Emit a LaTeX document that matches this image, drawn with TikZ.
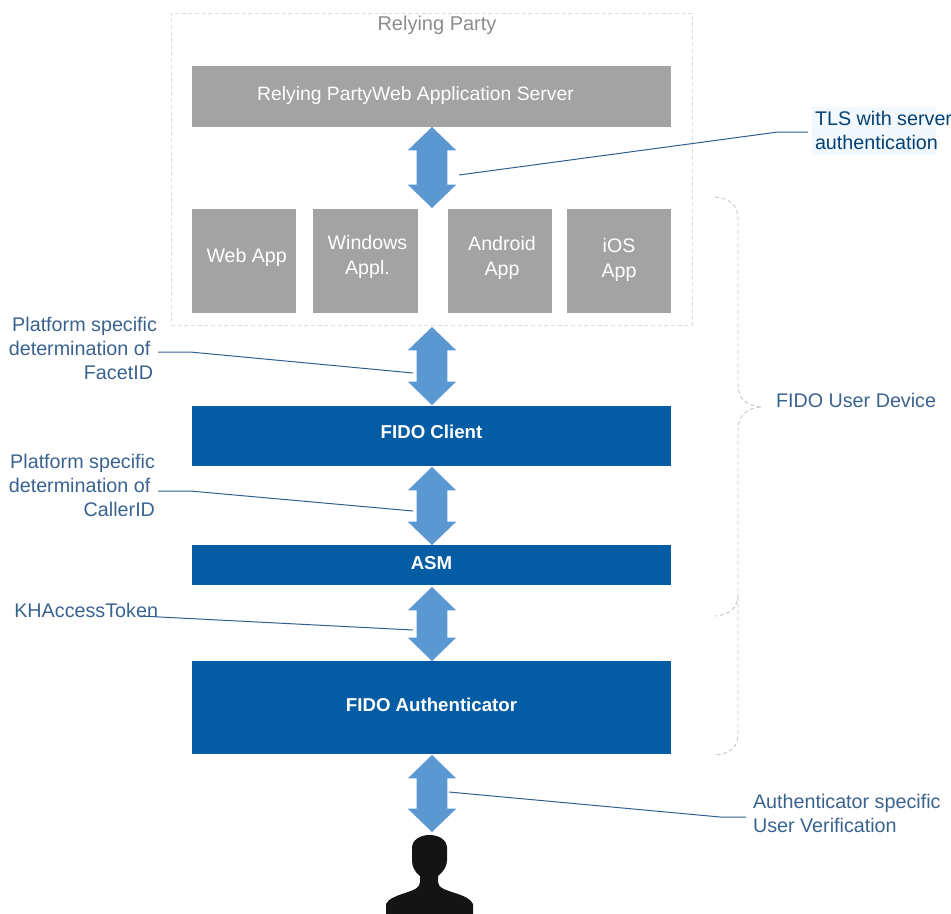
\documentclass[tikz,border=0pt]{standalone}
\usepackage{fontspec}
\setmainfont{Liberation Sans}
\usetikzlibrary{shapes.arrows}
\definecolor{boxgray}{HTML}{A3A3A3}
\definecolor{fidoblue}{HTML}{035CA4}
\definecolor{arrowblue}{HTML}{5B98D2}
\definecolor{notetext}{HTML}{3A628F}
\definecolor{leaderblue}{HTML}{2F5F8C}
\definecolor{framegray}{HTML}{DDDDDD}
\definecolor{bracegray}{HTML}{C9C9C9}
\definecolor{tlsbg}{HTML}{F3F8FC}
\tikzset{
  x=0.75pt,y=-0.75pt,
  boxtext/.style={text=white,font=\fontsize{14.7}{18.7}\selectfont,align=center,inner sep=0pt},
  boldtext/.style={text=white,font=\fontsize{14}{18.5}\selectfont\bfseries,align=center,inner sep=0pt},
  plainbox/.style={anchor=north west,inner sep=0pt,outer sep=0pt},
  graybox/.style={plainbox,fill=boxgray},
  bluebox/.style={plainbox,fill=fidoblue},
  varrow/.style={double arrow,fill=arrowblue,draw=none,shape border rotate=90,
    double arrow head extend=6.75pt,double arrow head indent=0pt,double arrow tip angle=92,
    text width=22.5pt,inner sep=0pt,outer sep=0pt},
  note/.style={text=notetext,font=\fontsize{14.8}{18}\selectfont,inner sep=0pt,outer sep=0pt},
  leader/.style={draw=leaderblue,line width=0.75pt},
  bracket/.style={draw=bracegray,line width=0.7pt,densely dashed},
}
\begin{document}
\begin{tikzpicture}
\useasboundingbox (0,0) rectangle (951,914);
% Relying Party frame
\node[plainbox,draw=framegray,line width=0.7pt,densely dashed,minimum width=391pt,minimum height=234pt] (rp) at (171,13) {};
\node[text=gray!90,font=\fontsize{15}{18}\selectfont,inner sep=0pt] (rptitle) at (437,25) {Relying Party};
% Boxes
\node[graybox,minimum width=359.25pt,minimum height=45.75pt,label={[boxtext,font=\fontsize{14.5}{18}\selectfont,xshift=-12pt,yshift=1pt]center:Relying PartyWeb Application Server}] (server) at (192,66) {};
\node[graybox,minimum width=78pt,minimum height=78pt,label={[boxtext,xshift=2pt,yshift=3pt]center:Web App}] (web) at (192,209) {};
\node[graybox,minimum width=78.75pt,minimum height=78pt,label={[boxtext,xshift=1.5pt,yshift=3pt]center:Windows\\Appl.}] (win) at (313,209) {};
\node[graybox,minimum width=78pt,minimum height=78pt,label={[boxtext,xshift=1.5pt,yshift=2.2pt]center:Android\\App}] (android) at (448,209) {};
\node[graybox,minimum width=78pt,minimum height=78pt,label={[boxtext,yshift=0.5pt]center:iOS\\App}] (ios) at (567,209) {};
\node[bluebox,minimum width=359.25pt,minimum height=45pt,label={[boldtext,yshift=3pt]center:FIDO Client}] (client) at (192,406) {};
\node[bluebox,minimum width=359.25pt,minimum height=30pt,label={[boldtext,yshift=1.5pt]center:ASM}] (asm) at (192,545) {};
\node[bluebox,minimum width=359.25pt,minimum height=69.75pt,label={[boldtext,yshift=2pt]center:FIDO Authenticator}] (authr) at (192,661) {};
% Double arrows
\node[varrow,minimum height=60.75pt] (a1) at (432,167.5) {};
\node[varrow,minimum height=58.5pt] (a2) at (432,366) {};
\node[varrow,minimum height=58.5pt] (a3) at (432,506) {};
\node[varrow,minimum height=55.5pt] (a4) at (432,624) {};
\node[varrow,minimum height=57.75pt] (a5) at (432,793.5) {};
% Notes
\fill[tlsbg] (812,107) rectangle (936,155);
\node[note,anchor=west,align=left,text=fidoblue!70!black] (tls) at (815,130) {TLS with server\\authentication};
\node[note,anchor=east,align=right] (facet) at (157,348) {Platform specific\\determination of\rule{5pt}{0pt}\\FacetID\rule{3pt}{0pt}};
\node[note,anchor=east,align=right] (caller) at (155,485) {Platform specific\\determination of\rule{3.5pt}{0pt}\\CallerID};
\node[note,anchor=east] (kh) at (158,610) {KHAccessToken};
\node[note,anchor=west,align=left] (uv) at (753,813) {Authenticator specific\\User Verification};
\node[note,anchor=west] (dev) at (776,400) {FIDO User Device};
% Leaders
\coordinate (e1) at (778,132);
\coordinate (e2) at (190,352);
\coordinate (e3) at (190,491);
\coordinate (e5) at (720,817);
\draw[leader] ([shift={(27,7.5)}]a1.center) -- (e1) -- ([shift={(-7,2)}]tls.west);
\draw[leader] ([shift={(1,4)}]facet.east) -- (e2) -- ([shift={(-19,7)}]a2.center);
\draw[leader] ([shift={(3,6)}]caller.east) -- (e3) -- ([shift={(-19,5)}]a3.center);
\draw[leader] ([shift={(-18,6)}]kh.east) -- ([shift={(-19,6)}]a4.center);
\draw[leader] ([shift={(17,-1.5)}]a5.center) -- (e5) -- ([shift={(-7,4)}]uv.west);
% Braces
\draw[bracket] (715,197) .. controls (730,198) and (738,206) .. (738,218) -- (738,385)
  .. controls (738,398) and (746,406) .. (762,407)
  .. controls (746,408) and (738,416) .. (738,430) -- (738,595)
  .. controls (738,607) and (730,615) .. (715,616);
\draw[bracket] (738,597) -- (738,735) .. controls (738,747) and (730,754) .. (715,755);
% Person
\fill[black!92] (386,914) -- (386,904) .. controls (388,899) and (396,896) .. (405,893)
  .. controls (414,890) and (420,888) .. (420,882) -- (420,876)
  .. controls (414,871) and (412,866) .. (412,860) -- (412,848)
  .. controls (412,840) and (420,835) .. (429.5,835)
  .. controls (439,835) and (447,840) .. (447,848) -- (447,860)
  .. controls (447,866) and (444,871) .. (438,876) -- (438,882)
  .. controls (438,888) and (446,890) .. (455,893)
  .. controls (464,896) and (471,899) .. (473,904) -- (473,914) -- cycle;
\end{tikzpicture}
\end{document}
